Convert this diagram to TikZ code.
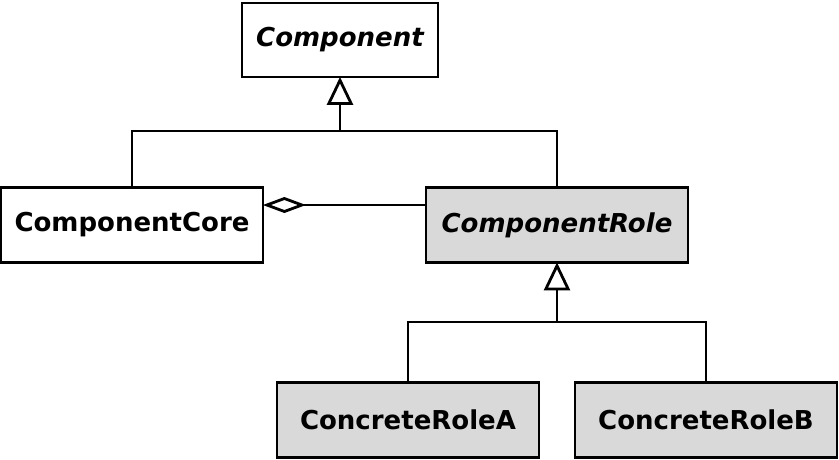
\documentclass[tikz,border=0pt]{standalone}
\usepackage{fontspec}
\setmainfont{DejaVu Sans}
\usetikzlibrary{arrows.meta}
\usetikzlibrary{positioning}
\definecolor{rolegray}{rgb}{0.85, 0.85, 0.85}
\tikzset{class/.style = {draw, line width=2.8pt, inner sep=0pt,
                         minimum width=262pt, minimum height=75pt,
                         font=\fontsize{26}{31}\selectfont\bfseries}}
\tikzset{role/.style = {class, fill=rolegray}}
\tikzset{inherit/.style = {line width=2.8pt, shorten >=-1.5pt,
                           -{Triangle[open, length=28pt, width=26pt, line width=2.8pt]}}}
\tikzset{aggr/.style = {line width=2.8pt, shorten <=-1.5pt,
                        {Diamond[open, length=43pt, width=16pt, line width=2.8pt]}-}}

\begin{document}
\begin{tikzpicture}[x=1pt, y=-1pt]
      \useasboundingbox (0, 0) rectangle (839, 459);

      \node [class, minimum width=196pt, minimum height=74pt] (comp) at (340, 40) {\itshape Component};
      \node [class] (core) at (132, 225) {ComponentCore};
      \node [role] (crole) at (557, 225) {\itshape ComponentRole};
      \node [role] (roleA) at (408, 420) {ConcreteRoleA};
      \node [role] (roleB) at (706, 420) {ConcreteRoleB};

      \coordinate (j1) at (340, 131);
      \coordinate (j2) at (557, 322);

      \draw [line width=2.8pt] (core.north) |- (j1) -| (crole.north);
      \draw [inherit] (j1) -- (comp.south);

      \draw [line width=2.8pt] (roleA.north) |- (j2) -| (roleB.north);
      \draw [inherit] (j2) -- (crole.south);

      \draw [aggr] ([yshift=20pt]core.east) -- ([yshift=20pt]crole.west);
    \end{tikzpicture}
\end{document}
